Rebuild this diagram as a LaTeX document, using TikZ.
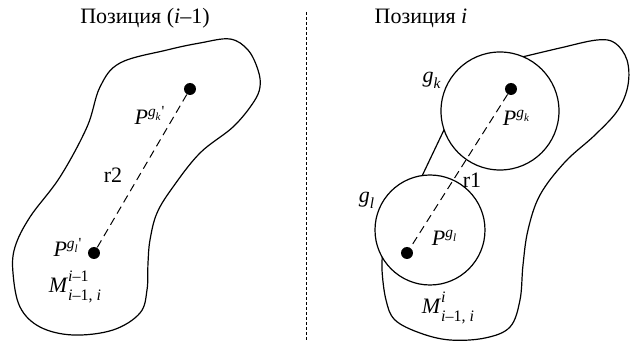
\documentclass[tikz,border=0pt]{standalone}
\usepackage{amsmath}
\usepackage{fontspec}
\setmainfont{Liberation Serif}
\usetikzlibrary{positioning}
\newcommand{\mi}[1]{\textnormal{\itshape #1}}
\newcommand{\tn}[1]{\textnormal{#1}}
% M with stacked upper and lower index
\newcommand{\stackidx}[3]{\mi{#1}\makebox[0pt][l]{\raisebox{1.05ex}{\fontsize{8}{9}\selectfont #2}}\raisebox{-0.75ex}{\fontsize{8}{9}\selectfont #3}}
\tikzset{
    dot/.style={circle, fill=black, inner sep=0pt, minimum size=6pt},
    zone/.style={draw, line width=0.6pt},
    grp/.style={circle, draw, fill=white, line width=0.6pt, inner sep=0pt},
    link/.style={dash pattern=on 4pt off 2.5pt, line width=0.5pt},
    divider/.style={dash pattern=on 1.5pt off 1pt, line width=0.5pt},
    ttl/.style={font=\fontsize{11}{13}\selectfont},
    lbl/.style={font=\fontsize{11}{13}\selectfont, inner sep=1pt}
}
\begin{document}
\begin{tikzpicture}[x=0.5pt, y=-0.5pt]
\useasboundingbox (0,0) rectangle (634,342);
% left: position i-1
\node[ttl] (tprev) at (145,18) {Позиция (\mi{i}–1)};
\draw[zone] plot[smooth cycle, tension=0.6] coordinates {
    (230,39)(248,50)(258,70)(260,87)(253,103)(233,127)(200,153)(173,187)
    (157,213)(150,240)(148,263)(147,290)(140,313)(113,330)(73,335)(40,327)
    (20,307)(13,273)(15,247)(30,217)(60,177)(87,127)(100,87)(120,63)(167,50)(200,43)};
\node[dot] (pkprev) at (190,89) {};
\node[dot] (plprev) at (94,253) {};
\draw[link] (pkprev) -- (plprev);
\node[lbl] (lkprev) at (150,115) {$\mi{P}^{\mi{g}_{\mi{k}}\tn{\textquotesingle}}$};
\node[lbl] (rtwo) at (113,175) {r2};
\node[lbl] (llprev) at (68,247) {$\mi{P}^{\mi{g}_{\mi{l}}\tn{\textquotesingle}}$};
\node[lbl] (mprev) at (75,287) {\stackidx{M}{\mi{i}–1}{\mi{i}–1, \mi{i}}};
% divider
\coordinate (dtop) at (307,12);
\coordinate (dbot) at (307,340);
\draw[divider] (dtop) -- (dbot);
% right: position i
\node[ttl] (tcur) at (421,18) {Позиция \mi{i}};
\draw[zone] plot[smooth, tension=0.6] coordinates {
    (518,58)(560,48)(597,40)(615,43)(627,60)(628,85)(618,110)(595,135)(565,162)
    (540,195)(528,230)(523,265)(520,300)(510,327)(485,338)(450,340)(420,333)
    (395,320)(386,300)(382,270)(383,250)} -- (413,195) -- (453,111) -- cycle;
\node[grp, minimum size=59pt] (gk) at (500,111) {};
\node[grp, minimum size=55pt] (gl) at (430,230) {};
\node[dot] (pk) at (511,89) {};
\node[dot] (pl) at (407,253) {};
\draw[link] (pk) -- (pl);
\node[lbl] (lgk) at (432,80) {$\mi{g}_{\mi{k}}$};
\node[lbl] (lgl) at (367,200) {$\mi{g}_{\mi{l}}$};
\node[lbl] (lpk) at (517,118) {$\mi{P}^{\mi{g}_{\mi{k}}}$};
\node[lbl] (lpl) at (445,238) {$\mi{P}^{\mi{g}_{\mi{l}}}$};
\node[lbl] (rone) at (472,180) {r1};
\node[lbl] (mcur) at (448,308) {\stackidx{M}{\mi{i}}{\mi{i}–1, \mi{i}}};
\end{tikzpicture}
\end{document}
